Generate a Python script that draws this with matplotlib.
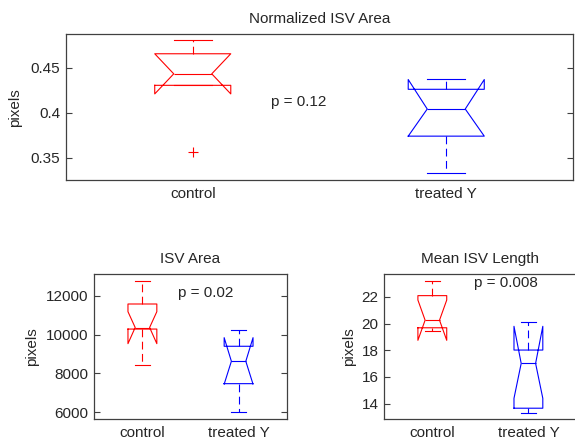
import matplotlib
matplotlib.use("Agg")
import matplotlib.pyplot as plt

plt.rcParams['font.family'] = ['Liberation Sans', 'DejaVu Sans']
plt.rcParams['font.size'] = 11
plt.rcParams['text.color'] = '#262626'
plt.rcParams['xtick.labelcolor'] = '#262626'
plt.rcParams['ytick.labelcolor'] = '#262626'
plt.rcParams['axes.labelcolor'] = '#262626'

groups = ['control', 'treated Y']
colors = ['#ff0000', '#0000ff']

# Normalized ISV Area
norm_lo = [0.4303, 0.333]
norm_q1 = [0.4303, 0.3741]
norm_med = [0.443, 0.4041]
norm_q3 = [0.4652, 0.4259]
norm_hi = [0.4808, 0.4378]
norm_cilo = [0.4208, 0.3741]
norm_cihi = [0.4652, 0.4367]
norm_fliers = [[0.357], []]

# ISV Area
area_lo = [8417, 5990]
area_q1 = [10290, 7466]
area_med = [10370, 8624]
area_q3 = [11586, 9400]
area_hi = [12791, 10227]
area_cilo = [9535, 7440]
area_cihi = [11189, 9845]
area_fliers = [[], []]

# Mean ISV Length
len_lo = [19.43, 13.33]
len_q1 = [19.69, 13.66]
len_med = [20.26, 17.02]
len_q3 = [22.1, 18.02]
len_hi = [23.22, 20.1]
len_cilo = [18.75, 14.4]
len_cihi = [21.77, 19.8]
len_fliers = [[], []]

p_texts = ['p = 0.12', 'p = 0.02', 'p = 0.008']


def make_stats(lo, q1, med, q3, hi, cilo, cihi, fliers):
    out = []
    for i in range(len(groups)):
        out.append(dict(whislo=lo[i], q1=q1[i], med=med[i], q3=q3[i], whishi=hi[i],
                        cilo=cilo[i], cihi=cihi[i], fliers=fliers[i], label=groups[i]))
    return out


def draw_panel(ax, stats, title, ylim, yticks, ytlabels, ptext, pxy, labelpad, right_ticks=True):
    for i, st in enumerate(stats):
        c = colors[i]
        ax.bxp([st], positions=[i + 1], widths=0.3, shownotches=True,
               boxprops=dict(color=c, lw=0.8),
               medianprops=dict(color=c, lw=0.8),
               whiskerprops=dict(color=c, lw=0.8, linestyle=(0, (7, 4))),
               capprops=dict(color=c, lw=0.8),
               flierprops=dict(marker='+', markeredgecolor=c, markersize=7, markeredgewidth=0.8))
    ax.set_xlim(0.5, 2.5)
    ax.set_ylim(*ylim)
    ax.set_xticks([1, 2])
    ax.set_xticklabels(groups)
    ax.set_yticks(yticks)
    ax.set_yticklabels(ytlabels)
    ax.tick_params(axis='x', length=0, pad=5)
    ax.tick_params(axis='y', direction='in', length=4, width=0.8, right=right_ticks, pad=4,
                   color='#404040')
    for s in ax.spines.values():
        s.set_color('#404040')
        s.set_linewidth(0.9)
    ax.set_title(title, fontsize=11, pad=8)
    ax.set_ylabel('pixels', fontsize=11, labelpad=labelpad)
    ax.text(pxy[0], pxy[1], ptext, fontsize=11, va='center', ha='left')


fig = plt.figure(figsize=(5.75, 4.4), dpi=100)
ax1 = fig.add_axes([0.1148, 0.5909, 0.8817, 0.3311])
ax2 = fig.add_axes([0.164, 0.0477, 0.3346, 0.3296])
ax3 = fig.add_axes([0.6683, 0.0477, 0.3342, 0.3289])

draw_panel(ax1, make_stats(norm_lo, norm_q1, norm_med, norm_q3, norm_hi, norm_cilo, norm_cihi, norm_fliers),
           'Normalized ISV Area', (0.3256, 0.4867), [0.35, 0.4, 0.45], ['0.35', '0.4', '0.45'],
           p_texts[0], (1.31, 0.4114), 6)
draw_panel(ax2, make_stats(area_lo, area_q1, area_med, area_q3, area_hi, area_cilo, area_cihi, area_fliers),
           'ISV Area', (5638, 13138), [6000, 8000, 10000, 12000], ['6000', '8000', '10000', '12000'],
           p_texts[1], (1.375, 12140), 5)
draw_panel(ax3, make_stats(len_lo, len_q1, len_med, len_q3, len_hi, len_cilo, len_cihi, len_fliers),
           'Mean ISV Length', (12.85, 23.7), [14, 16, 18, 20, 22], ['14', '16', '18', '20', '22'],
           p_texts[2], (1.43, 23.07), 4, right_ticks=False)

fig.savefig('out.png', dpi=100)
